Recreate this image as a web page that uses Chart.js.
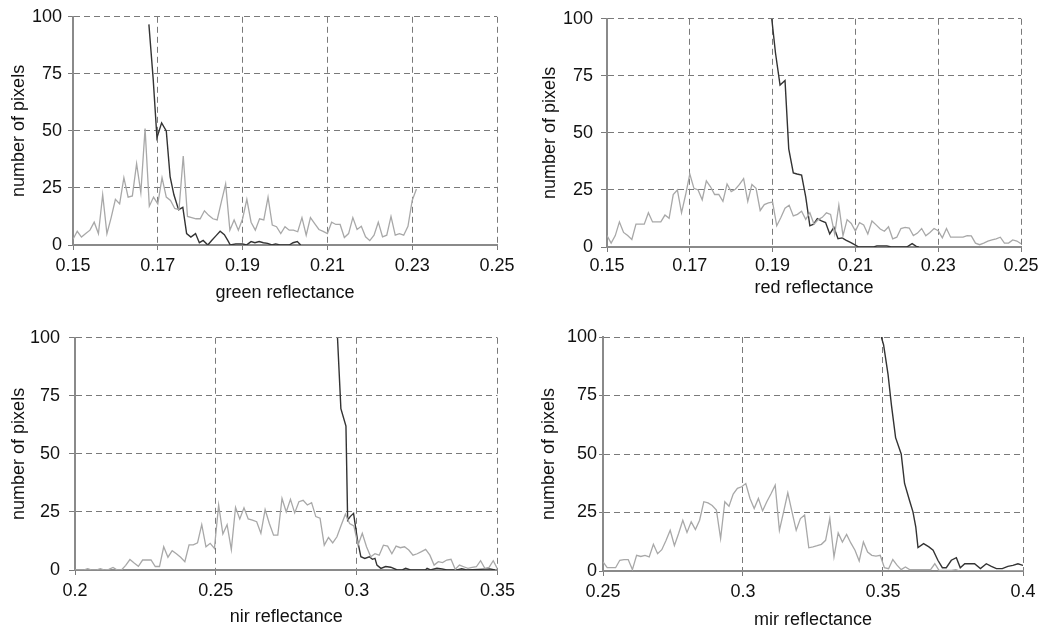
<!DOCTYPE html>
<html>
<head>
<meta charset="utf-8">
<script src="https://cdn.jsdelivr.net/npm/chart.js@4.4.1/dist/chart.umd.min.js"></script>
<style>
  body { margin: 0; background: #fff; width: 1050px; height: 635px; position: relative; overflow: hidden; }
  .panel { position: absolute; }
</style>
</head>
<body>
<canvas id="greenChart" class="panel" width="520" height="317" style="left:0;top:0"></canvas>
<canvas id="redChart" class="panel" width="530" height="317" style="left:520px;top:0"></canvas>
<canvas id="nirChart" class="panel" width="520" height="317" style="left:0;top:318px"></canvas>
<canvas id="mirChart" class="panel" width="530" height="317" style="left:520px;top:318px"></canvas>
<script>
// Shared y axis
const yTicks = [0, 25, 50, 75, 100];
const yTitle = 'number of pixels';

// Green reflectance panel
const greenXTicks = [0.15, 0.17, 0.19, 0.21, 0.23, 0.25];
const greenBinStart = 0.150;
const greenBinWidth = 0.001;
const greenLight = [2.5, 6, 3.5, 5, 6.5, 10, 5, 22, 5, 12, 20, 18, 29.5, 21, 21.5, 35.6, 23, 51, 17, 21,
  18, 29.5, 21, 19.5, 16, 15.5, 39, 12.5, 12, 11.5, 11.5, 15, 13, 11.5, 11, 19, 26.7, 6.5, 11, 6.5,
  11.5, 20, 10, 6.5, 11.5, 11, 21, 8.7, 8, 5, 8, 6.5, 6.5, 5.8, 12, 4.3, 12, 9.4, 6.8, 6,
  5, 10, 9, 9, 3.3, 5, 12, 6.8, 8.2, 3.6, 1.9, 4.3, 10, 3.6, 4.3, 12.5, 4.3, 5, 4.3, 8.2,
  19.5, 24.5];
const greenDarkX = [0.1679, 0.1689, 0.1698, 0.1709, 0.1720, 0.1729, 0.1738, 0.1749, 0.1759, 0.1768,
  0.1778, 0.1789, 0.1798, 0.1807, 0.1818, 0.1827, 0.1837, 0.1847, 0.1857, 0.1865, 0.1871, 0.1884,
  0.1900, 0.1909, 0.1920, 0.1929, 0.1939, 0.1949, 0.1959, 0.1969, 0.1978, 0.1988, 0.2010, 0.2019,
  0.2029, 0.2037];
const greenDarkY = [96.7, 73, 47, 53.5, 50, 30, 22, 15.5, 16.5, 5, 3.5, 5, 1, 2, 0, 2, 4, 6, 4.5, 2,
  0, 0.5, 0.5, 0, 1.5, 1, 1.5, 1, 0.7, 0, 0.5, 0, 0, 1, 1.5, 0];

// Red reflectance panel
const redXTicks = [0.15, 0.17, 0.19, 0.21, 0.23, 0.25];
const redBinStart = 0.150;
const redBinWidth = 0.001;
const redLight = [5, 1.7, 5, 11, 6.4, 5, 3.3, 10, 10, 10, 15, 11, 11, 11, 14, 12.6, 23, 25, 15, 23,
  32, 25.7, 25, 20.7, 29, 26.4, 23, 23, 20, 27.6, 24.3, 25.3, 27.4, 30, 20, 27.4, 25.7, 16, 18.6, 19.3,
  19.7, 9.3, 12.9, 17, 18.3, 13.6, 14.3, 15.7, 12.1, 15, 10, 12, 13, 15, 14.3, 5.7, 18.3, 5, 12, 10.3,
  7, 10.7, 9.7, 5.7, 11.4, 9.7, 7.9, 6.9, 8.9, 3.6, 4.3, 8.1, 8.6, 8.3, 5, 6.1, 8.1, 4.9, 6.4, 8.1,
  7.1, 4, 8.1, 4.3, 4.3, 4.3, 4.3, 5, 4.9, 1.7, 1, 1.7, 2.6, 3.1, 3.6, 4.3, 1.7, 1.7, 3.1, 2.6, 1.4];
const redDarkX = [0.1898, 0.1907, 0.1918, 0.1930, 0.1939, 0.1950, 0.1959, 0.1970, 0.1980, 0.1990,
  0.1999, 0.2008, 0.2018, 0.2028, 0.2038, 0.2048, 0.2058, 0.2068, 0.2078, 0.2088, 0.2098, 0.2108,
  0.2144, 0.2152, 0.2176, 0.2186, 0.2224, 0.2237, 0.2247, 0.2253];
const redDarkY = [100, 85, 71, 73, 43, 32.5, 32, 31.5, 22, 9.3, 10, 12.4, 11.4, 10.7, 5.7, 8.6, 3.6,
  4, 2.9, 2, 1, 0, 0, 0.5, 0.5, 0, 0, 1.5, 0.3, 0];

// NIR reflectance panel
const nirXTicks = [0.2, 0.25, 0.3, 0.35];
const nirBinStart = 0.2;
const nirBinWidth = 0.0015;
const nirLight = [0, 0, 0, 0.6, 0, 0, 0.6, 0, 0.3, 1.1, 0, 0, 2, 4.5, 3, 1.6, 4.3, 4.3, 4.3, 1.5,
  1.5, 10, 5.5, 8.3, 7, 5.5, 3.6, 10.8, 10.8, 11.7, 19.5, 10, 11.5, 9.3, 28, 15.5, 19.5, 8.8, 27, 22,
  26.8, 22, 21.5, 20.8, 15.8, 26, 20, 15, 15, 30.8, 25, 30.4, 24.6, 29.4, 30, 28, 29, 23, 22.3, 10.7,
  14, 11.7, 14.3, 19.3, 24, 20, 19, 10.7, 15.8, 10, 5.7, 7, 6.4, 10.7, 10.3, 7, 10.3, 9.6, 10, 8.6,
  6.4, 7, 7.9, 8.9, 6.4, 2.1, 3.6, 3.2, 4.3, 4.6, 0.3, 2.1, 1.4, 0.7, 1.1, 1.4, 4, 0.7, 1.1, 4, 0.5];
const nirDarkX = [0.2932, 0.2944, 0.2962, 0.2968, 0.2977, 0.2989, 0.3003, 0.3015, 0.3029, 0.3045,
  0.3056, 0.3065, 0.3072, 0.3086, 0.3103, 0.3121, 0.3144, 0.3162, 0.3174, 0.3191, 0.3244, 0.3250,
  0.3262, 0.3285, 0.3303, 0.3320, 0.3356, 0.3373, 0.3391, 0.3473, 0.3491];
const nirDarkY = [100, 69.5, 62, 21.5, 23, 24.4, 12.9, 5.7, 5, 5.7, 4.6, 5, 2.1, 0.7, 1.5, 1.2, 0, 0,
  0.7, 0, 0, 0.7, 0, 0.8, 0.5, 0, 0, 0.5, 0, 0.5, 0];

// MIR reflectance panel
const mirXTicks = [0.25, 0.3, 0.35, 0.4];
const mirBinStart = 0.25;
const mirBinWidth = 0.0015;
const mirLight = [3.9, 1.4, 1.4, 1.4, 4.6, 4.9, 4.9, 0.6, 6.7, 6.2, 6.7, 6, 11.4, 7.4, 9.1, 13, 17.4,
  10.9, 16, 21.7, 16.5, 21, 17.7, 21.7, 29.6, 29.1, 28, 26, 13.9, 29.6, 27.7, 32.9, 35.3, 36, 37.4,
  31, 26.7, 31, 25.7, 29.6, 33, 36.7, 17.4, 25.3, 33.4, 25.3, 17.4, 22.4, 23.9, 9.9, 10.3, 10.8, 11.4,
  13.1, 22.4, 6, 16.3, 12.4, 15.6, 12, 8.9, 4.3, 12.4, 8.1, 6.7, 6.4, 6.7, 1.4, 1, 4.9, 2.5, 0.6, 1.7,
  0.6, 0.6, 0.6, 0.6, 0.6, 0.6, 3.1, 0.3, 0.3, 0.3, 0.3, 0.6, 0, 0, 0, 0, 0, 0, 0, 0, 0, 0, 0, 0, 0,
  0, 0, 0];
const mirDarkX = [0.3494, 0.3502, 0.3518, 0.3530, 0.3545, 0.3565, 0.3577, 0.3595, 0.3607, 0.3617,
  0.3625, 0.3645, 0.3664, 0.3679, 0.3696, 0.3712, 0.3726, 0.3744, 0.3762, 0.3776, 0.3792, 0.3810,
  0.3827, 0.3848, 0.3869, 0.3887, 0.3905, 0.3926, 0.3946, 0.3964, 0.3982, 0.4];
const mirDarkY = [100, 96.7, 84, 71, 57, 50, 37.4, 30, 25.3, 18.9, 10, 11.7, 10.3, 8.9, 4.6, 1.4, 1.4,
  4.6, 5.7, 1.4, 3.1, 3.1, 3.1, 1, 3.1, 2, 1, 1, 2, 2.4, 3.1, 2.4];

const textColor = '#111';
const gridColor = '#7a7a7a';
const fontFamily = '"Liberation Sans", Arial, Helvetica, sans-serif';

function binPoints(values, start, width) {
  return values.map((v, i) => ({ x: start + i * width, y: v }));
}

function pairPoints(xs, ys) {
  return xs.map((x, i) => ({ x: x, y: ys[i] }));
}

// box: pixel geometry of the plot area inside each canvas
function drawPanel(id, xTitle, xTicks, light, dark, box) {
  const ctx = document.getElementById(id).getContext('2d');
  new Chart(ctx, {
    type: 'line',
    data: {
      datasets: [
        { data: light, borderColor: '#a8a8a8', borderWidth: 1.3, pointRadius: 0, tension: 0 },
        { data: dark, borderColor: '#333', borderWidth: 1.4, pointRadius: 0, tension: 0 }
      ]
    },
    options: {
      responsive: false,
      devicePixelRatio: 1,
      animation: false,
      layout: { padding: { top: box.top, right: box.right, left: 0, bottom: 0 } },
      plugins: { legend: { display: false }, tooltip: { enabled: false } },
      scales: {
        x: {
          type: 'linear',
          min: xTicks[0],
          max: xTicks[xTicks.length - 1],
          afterBuildTicks: s => { s.ticks = xTicks.map(v => ({ value: v })); },
          afterFit: s => { s.height = box.xHeight; },
          ticks: {
            color: textColor, padding: box.xPad, maxRotation: 0, autoSkip: false,
            font: { family: fontFamily, size: 18 },
            callback: v => String(v)
          },
          grid: { color: gridColor, lineWidth: 1, tickLength: 5, tickColor: gridColor },
          border: { color: '#8a8a8a', width: 2, dash: [6, 4] },
          title: {
            display: true, text: xTitle, color: textColor,
            font: { family: fontFamily, size: 18 },
            padding: { top: 0, bottom: box.xTitlePad }
          }
        },
        y: {
          min: 0,
          max: 100,
          afterBuildTicks: s => { s.ticks = yTicks.map(v => ({ value: v })); },
          afterFit: s => { s.width = box.yWidth; },
          ticks: {
            color: textColor, padding: box.yPad,
            font: { family: fontFamily, size: 18 }
          },
          grid: { color: gridColor, lineWidth: 1, tickLength: box.yTick, tickColor: gridColor },
          border: { color: '#8a8a8a', width: 2, dash: [6, 4] },
          title: {
            display: true, text: yTitle, color: textColor,
            font: { family: fontFamily, size: 18 },
            padding: { top: box.yTitlePad, bottom: 0 }
          }
        }
      }
    }
  });
}

drawPanel('greenChart', 'green reflectance', greenXTicks,
  binPoints(greenLight, greenBinStart, greenBinWidth), pairPoints(greenDarkX, greenDarkY),
  { top: 14, right: 23, yWidth: 73, xHeight: 72, xPad: 5, yPad: 6, yTick: 5, xTitlePad: 13, yTitlePad: 8 });

drawPanel('redChart', 'red reflectance', redXTicks,
  binPoints(redLight, redBinStart, redBinWidth), pairPoints(redDarkX, redDarkY),
  { top: 13, right: 29, yWidth: 87, xHeight: 70, xPad: 3, yPad: 8, yTick: 6, xTitlePad: 18, yTitlePad: 19 });

drawPanel('nirChart', 'nir reflectance', nirXTicks,
  binPoints(nirLight, nirBinStart, nirBinWidth), pairPoints(nirDarkX, nirDarkY),
  { top: 19, right: 19, yWidth: 75, xHeight: 65, xPad: 5, yPad: 9, yTick: 6, xTitlePad: 7, yTitlePad: 8 });

drawPanel('mirChart', 'mir reflectance', mirXTicks,
  binPoints(mirLight, mirBinStart, mirBinWidth), pairPoints(mirDarkX, mirDarkY),
  { top: 19, right: 27, yWidth: 83, xHeight: 64, xPad: 5, yPad: 2, yTick: 4, xTitlePad: 4, yTitlePad: 18 });
</script>
</body>
</html>
